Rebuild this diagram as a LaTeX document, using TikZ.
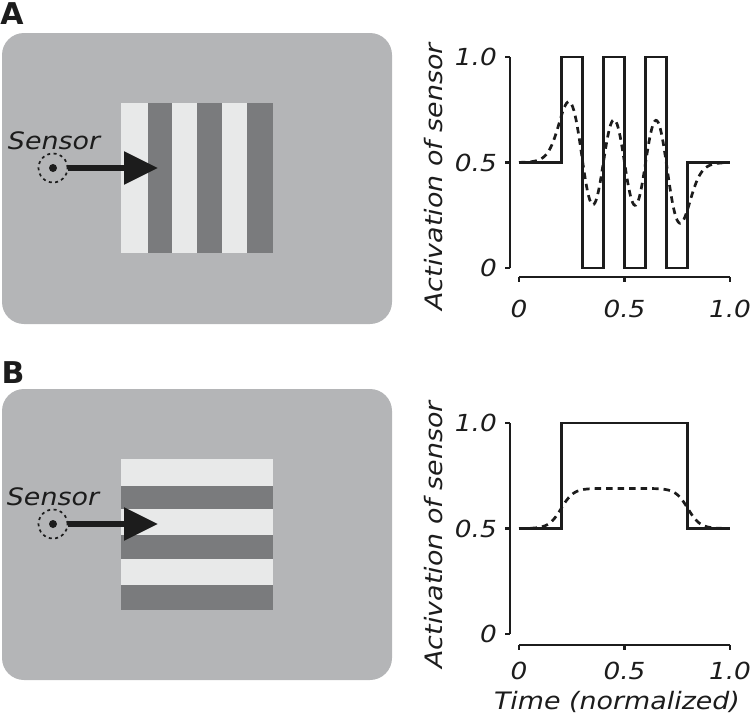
\documentclass[tikz,border=0pt]{standalone}
\usepackage{fontspec}
\newfontfamily\pf{DejaVu Sans}[FakeStretch=1.12]
\newfontfamily\pnl{DejaVu Sans}
\usetikzlibrary{arrows.meta}
\definecolor{bg}{RGB}{180,181,183}
\definecolor{lt}{RGB}{232,233,233}
\definecolor{dk}{RGB}{122,123,125}
\definecolor{ink}{RGB}{28,28,28}
\pgfmathdeclarefunction{sg}{1}{\pgfmathparse{1/(1+exp(-34*max(min(#1,0.25),-0.25)))}}
\tikzset{
  panel/.style={fill=bg, rounded corners=22pt},
  lstripe/.style={fill=lt},
  dstripe/.style={fill=dk},
  sensor/.style={circle, draw=ink, line width=1.7pt, dash pattern=on 3pt off 3.4pt, minimum size=29pt, inner sep=0pt},
  sarrow/.style={draw=ink, line width=5.5pt, -{Triangle[length=34pt,width=32pt]}},
  stxt/.style={font=\pf\itshape\fontsize{24}{24}\selectfont, text=ink, inner sep=0pt},
  ticklab/.style={font=\pf\itshape\fontsize{23.5}{23.5}\selectfont, text=ink, inner sep=0pt},
  axlab/.style={font=\pf\itshape\fontsize{24}{24}\selectfont, text=ink, inner sep=0pt},
  plab/.style={font=\pnl\bfseries\fontsize{30}{30}\selectfont, text=ink, inner sep=0pt},
  axis/.style={draw=ink, line width=2.8pt},
  sig/.style={draw=ink, line width=2.8pt, line join=miter},
  smoothsig/.style={draw=ink, line width=2.7pt, dash pattern=on 6.5pt off 5pt},
}
\begin{document}
\begin{tikzpicture}[x=1pt,y=-1pt]
\useasboundingbox (0,0) rectangle (750,715);
% ---------------- Panel A ----------------
\node[plab] (labA) at (12,14) {A};
\fill[panel] (2,33) rectangle (392,324);
\fill[lstripe] (121,103) rectangle (147.5,253);
\fill[dstripe] (147.5,103) rectangle (171.5,253);
\fill[lstripe] (171.5,103) rectangle (197,253);
\fill[dstripe] (197,103) rectangle (221.5,253);
\fill[lstripe] (221.5,103) rectangle (246.5,253);
\fill[dstripe] (246.5,103) rectangle (273,253);
\node[stxt] (stA) at (54,141) {Sensor};
\node[sensor] (sA) at (53,168) {};
\fill[ink] (sA.center) circle (4pt);
\coordinate (tA) at (158,168);
\draw[sarrow] (sA) -- (tA);
% plot A
\node[axlab, rotate=90] (ylabA) at (434,177) {Activation of sensor};
\begin{scope}[shift={(519,268)}, x=211pt, y=211pt]
  \draw[axis] (-0.0427,0) -- (-0.0427,1);
  \foreach \v in {0,0.5,1} \draw[axis] (-0.0427,\v) -- ++(-5pt,0);
  \draw[axis] (0,-0.0427) -- (1,-0.0427);
  \foreach \t in {0,0.5,1} \draw[axis] (\t,-0.0427) -- ++(0,-5pt);
  \node[ticklab, anchor=east] (ya1) at ([xshift=-13pt]-0.0427,1) {1.0};
  \node[ticklab, anchor=east] (ya2) at ([xshift=-13pt]-0.0427,0.5) {0.5};
  \node[ticklab, anchor=east] (ya3) at ([xshift=-13pt]-0.0427,0) {0};
  \node[ticklab] (xa1) at ([yshift=-40.5pt]0,0) {0};
  \node[ticklab] (xa2) at ([yshift=-40.5pt]0.5,0) {0.5};
  \node[ticklab] (xa3) at ([yshift=-40.5pt]1,0) {1.0};
  \draw[sig] (0,0.5) -- (0.2,0.5) -- (0.2,1) -- (0.3,1) -- (0.3,0) -- (0.4,0) -- (0.4,1) -- (0.5,1) -- (0.5,0) -- (0.6,0) -- (0.6,1) -- (0.7,1) -- (0.7,0) -- (0.8,0) -- (0.8,0.5) -- (1,0.5);
  \draw[smoothsig] plot[domain=0:1, samples=201]
    (\x, {0.5+0.5*sg(\x-0.2)-sg(\x-0.3)+sg(\x-0.4)-sg(\x-0.5)+sg(\x-0.6)-sg(\x-0.7)+0.5*sg(\x-0.8)});
\end{scope}
% ---------------- Panel B ----------------
\node[plab] (labB) at (13,373) {B};
\fill[panel] (2,389) rectangle (392,680);
\fill[lstripe] (121,459) rectangle (273,485.5);
\fill[dstripe] (121,485.5) rectangle (273,509);
\fill[lstripe] (121,509) rectangle (273,534.5);
\fill[dstripe] (121,534.5) rectangle (273,559);
\fill[lstripe] (121,559) rectangle (273,584.5);
\fill[dstripe] (121,584.5) rectangle (273,610);
\node[stxt] (stB) at (53,497) {Sensor};
\node[sensor] (sB) at (53,524) {};
\fill[ink] (sB.center) circle (4pt);
\coordinate (tB) at (158,524);
\draw[sarrow] (sB) -- (tB);
% plot B
\node[axlab, rotate=90] (ylabB) at (434,535) {Activation of sensor};
\node[axlab] (xlabB) at (617,702) {Time (normalized)};
\begin{scope}[shift={(519,634)}, x=211pt, y=211pt]
  \draw[axis] (-0.0427,0) -- (-0.0427,1);
  \foreach \v in {0,0.5,1} \draw[axis] (-0.0427,\v) -- ++(-5pt,0);
  \draw[axis] (0,-0.052) -- (1,-0.052);
  \foreach \t in {0,0.5,1} \draw[axis] (\t,-0.052) -- ++(0,-5pt);
  \node[ticklab, anchor=east] (yb1) at ([xshift=-13pt]-0.0427,1) {1.0};
  \node[ticklab, anchor=east] (yb2) at ([xshift=-13pt]-0.0427,0.5) {0.5};
  \node[ticklab, anchor=east] (yb3) at ([xshift=-13pt]-0.0427,0) {0};
  \node[ticklab] (xb1) at ([yshift=-37pt]0,0) {0};
  \node[ticklab] (xb2) at ([yshift=-37pt]0.5,0) {0.5};
  \node[ticklab] (xb3) at ([yshift=-37pt]1,0) {1.0};
  \draw[sig] (0,0.5) -- (0.2,0.5) -- (0.2,1) -- (0.8,1) -- (0.8,0.5) -- (1,0.5);
  \draw[smoothsig] plot[domain=0:1, samples=201]
    (\x, {0.5+0.19*(sg(\x-0.2)-sg(\x-0.8))});
\end{scope}
\end{tikzpicture}
\end{document}
